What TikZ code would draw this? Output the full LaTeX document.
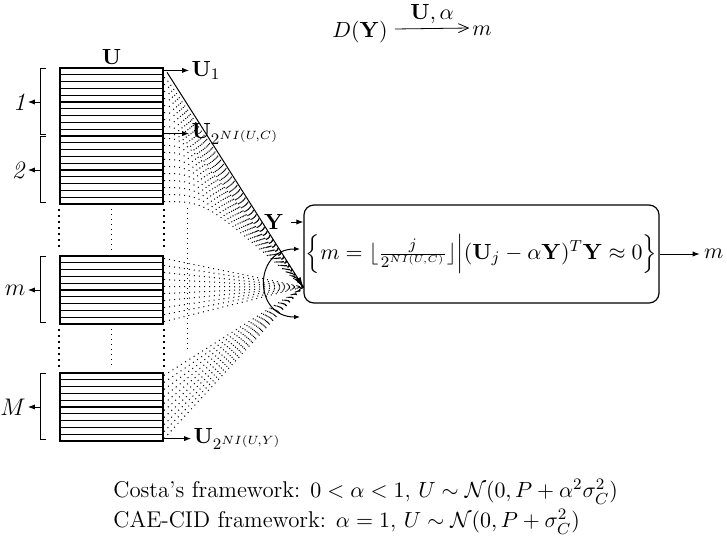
\documentclass[tikz,border=0pt]{standalone}
\usepackage{amsmath,amssymb}
\usetikzlibrary{calc,arrows.meta}

\tikzset{
  bin/.style={draw, line width=1.1pt, minimum width=51.5pt, minimum height=34pt, inner sep=0pt,
    path picture={
      \foreach \k in {1,...,9}
        \draw[line width=0.6pt]
          ($(path picture bounding box.north west)!\k/10!(path picture bounding box.south west)$) --
          ($(path picture bounding box.north east)!\k/10!(path picture bounding box.south east)$);}},
  tip/.style={-{Latex[length=3.5pt,width=2.6pt]}},
  fan/.style={dotted, line width=0.5pt},
  gapdots/.style={dotted, line width=1pt},
}

\begin{document}
\begin{tikzpicture}[x=0.5pt, y=-0.5pt, font=\fontsize{11.4}{13}\selectfont]
  \useasboundingbox (0,0) rectangle (727,540);

  % top line: decoder
  \node (DY) at (360,32) {$D(\mathbf{Y})$};
  \node (mtop) at (482,31) {$m$};
  \draw[-{Straight Barb[length=5pt,width=4.5pt]}] ([xshift=0pt,yshift=1.5pt]DY.east) -- ([xshift=2pt,yshift=1.5pt]mtop.west)
    node[midway, above, yshift=-1pt] (Ua) {$\mathbf{U},\alpha$};

  % the bins, 10 codewords each
  \node[bin] (b1) at (111.5,102) {};
  \node[bin] (b2) at (111.5,170) {};
  \node[bin] (bm) at (111.5,290) {};
  \node[bin] (bM) at (111.5,407) {};
  \node[above, inner sep=1pt] (U) at (b1.north) {$\mathbf{U}$};

  % dots between bins
  \foreach \a/\b in {b2/bm, bm/bM} {
    \draw[gapdots] ([yshift=-2pt]\a.south west) -- ([yshift=2pt]\b.north west);
    \draw[gapdots] ([yshift=-2pt]\a.south east) -- ([yshift=2pt]\b.north east);
    \draw[dotted, line width=0.5pt] ([yshift=-2pt]\a.south) -- ([yshift=2pt]\b.north);
  }
  \draw[dotted, line width=0.5pt] (187,208) -- (187,350);

  % brackets and bin indices
  \foreach \b/\lab in {b1/{\textit{1}}, b2/{\textit{2}}, bm/{$m$}, bM/{$M$}} {
    \draw[line width=0.5pt] ([xshift=-6.5pt,yshift=-1pt]\b.north west) -| ([xshift=-9pt,yshift=1.5pt]\b.south west) -- ++(2.5pt,0);
    \node[anchor=east, inner sep=1pt, font=\fontsize{12.5}{14}\selectfont] (lab-\b) at ([xshift=-15.5pt]\b.west) {\lab};
    \draw[tip] ([xshift=-9pt]\b.west) -- (lab-\b.east);
  }

  % decoder box
  \node[draw, line width=0.6pt, rounded corners=5pt, inner sep=1pt, minimum width=177.5pt, minimum height=49pt,
    font=\fontsize{10.8}{13}\selectfont] (dec) at (481.5,254)
    {$\Big\{ m=\lfloor\frac{j}{2^{NI(U,C)}}\rfloor\Big|(\mathbf{U}_j-\alpha\mathbf{Y})^T\mathbf{Y}\approx 0\Big\}$};
  \coordinate (P) at ([yshift=-16.5pt]dec.west);
  \node (Y) at (274,222) {$\mathbf{Y}$};
  \draw[tip] (Y.east) -- (Y.east -| dec.west);
  \draw[tip] (dec.east) -- ++(20pt,0) node[right, inner sep=2pt] (mout) {$m$};

  % codeword labels
  \coordinate (A) at ($(b1.north east)!0.05!(b1.south east)$);
  \draw[tip] (A) -- ++(12.5pt,0) node[right, inner sep=1pt] (u1) {$\mathbf{U}_1$};
  \draw[tip] ($(b1.north east)!0.95!(b1.south east)$) -- ++(12.5pt,0)
    node[right, inner sep=1pt] (uc) {$\mathbf{U}_{2^{NI(U,C)}}$};
  \draw[tip] ($(bM.north east)!0.95!(bM.south east)$) -- ++(13.5pt,0)
    node[right, inner sep=1pt] (uy) {$\mathbf{U}_{2^{NI(U,Y)}}$};

  % every codeword goes to the decoder
  \draw[line width=0.5pt, -{Latex[length=5pt,width=3pt]}] ([xshift=1.5pt,yshift=-1pt]A) -- (P);
  \foreach \b/\kmin in {b1/2, b2/1} {
    \foreach \k [evaluate=\k as \f using (\k-0.5)/10] in {\kmin,...,10} {
      \coordinate (s) at ($(\b.north east)!\f!(\b.south east)$);
      \coordinate (sx) at ($(s)+(10,0)$);
      \coordinate (i) at (intersection of s--sx and A--P);
      \coordinate (c) at ($(s)!0.5!(i)$);
      \draw[fan] (s) .. controls (c) .. (P);
    }
  }
  \foreach \b in {bm, bM} {
    \foreach \k [evaluate=\k as \f using (\k-0.5)/10] in {1,...,10}
      \draw[fan] ($(\b.north east)!\f!(\b.south east)$) -- (P);
  }
  \coordinate (arcT) at (300,249);
  \coordinate (arcB) at (300,317);
  \draw[line width=0.5pt, {Latex[length=3pt,width=2.4pt]}-{Latex[length=3pt,width=2.4pt]}]
    (arcT) .. controls (253,249) and (253,317) .. (arcB);

  % frameworks
  \node[anchor=west, inner sep=0pt] (costa) at (113,492)
    {Costa's framework: $0<\alpha<1$, $U\sim\mathcal{N}(0,P+\alpha^2\sigma_C^2)$};
  \node[anchor=west, inner sep=0pt] (cae) at (113,522)
    {CAE-CID framework: $\alpha=1$, $U\sim\mathcal{N}(0,P+\sigma_C^2)$};
\end{tikzpicture}
\end{document}
